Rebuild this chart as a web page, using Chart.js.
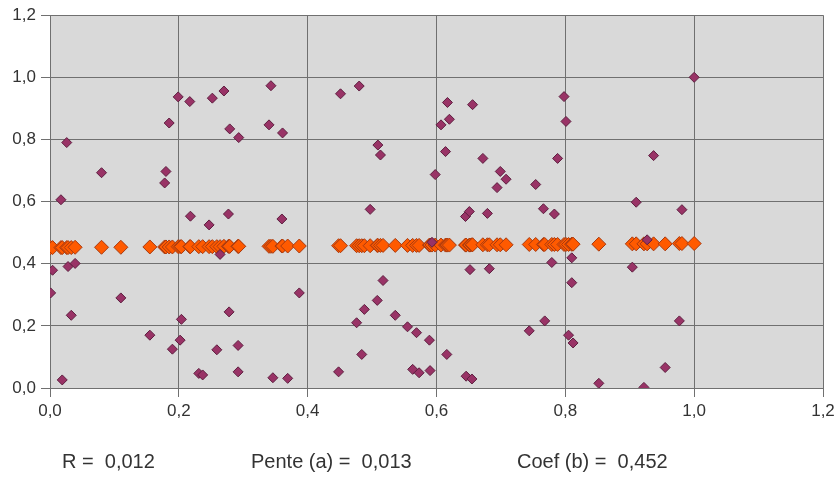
<!DOCTYPE html>
<html>
<head>
<meta charset="utf-8">
<script src="https://cdn.jsdelivr.net/npm/chart.js@4"></script>
<style>
  html, body { margin: 0; padding: 0; background: #fff; }
  #wrap { position: relative; width: 839px; height: 477px; }
  .stat { position: absolute; top: 451px; font: 20px "Liberation Sans", Arial, sans-serif; color: #333; white-space: pre; line-height: 20px; }
</style>
</head>
<body>
<div id="wrap">
  <canvas id="chart" width="839" height="477"></canvas>
  <div class="stat" style="left:62px">R =  0,012</div>
  <div class="stat" style="left:251px">Pente (a) =  0,013</div>
  <div class="stat" style="left:517px">Coef (b) =  0,452</div>
</div>
<script>
// measured points (x, y)
const pointsX = [0.001, 0.004, 0.017, 0.019, 0.026, 0.028, 0.033, 0.039, 0.080, 0.110,
  0.155, 0.178, 0.180, 0.185, 0.190, 0.199, 0.202, 0.204, 0.217, 0.218,
  0.231, 0.237, 0.247, 0.252, 0.259, 0.264, 0.270, 0.277, 0.278, 0.279,
  0.292, 0.292, 0.293, 0.340, 0.343, 0.346, 0.360, 0.361, 0.369, 0.387,
  0.448, 0.451, 0.476, 0.480, 0.484, 0.488, 0.497, 0.508, 0.509, 0.513,
  0.517, 0.536, 0.555, 0.563, 0.569, 0.573, 0.589, 0.590, 0.593, 0.598,
  0.607, 0.614, 0.616, 0.617, 0.620, 0.645, 0.646, 0.651, 0.652, 0.655,
  0.656, 0.672, 0.679, 0.682, 0.694, 0.699, 0.708, 0.744, 0.754, 0.766,
  0.768, 0.779, 0.783, 0.788, 0.798, 0.801, 0.805, 0.810, 0.810, 0.812,
  0.852, 0.904, 0.910, 0.922, 0.927, 0.937, 0.955, 0.977, 0.981, 1.000];
const pointsY = [0.306, 0.379, 0.606, 0.026, 0.790, 0.391, 0.234, 0.401, 0.693, 0.290,
  0.170, 0.660, 0.697, 0.853, 0.125, 0.937, 0.154, 0.221, 0.922, 0.553,
  0.047, 0.042, 0.525, 0.933, 0.123, 0.430, 0.956, 0.560, 0.245, 0.834,
  0.137, 0.052, 0.806, 0.847, 0.973, 0.033, 0.544, 0.821, 0.031, 0.306,
  0.052, 0.947, 0.210, 0.972, 0.108, 0.253, 0.575, 0.282, 0.782, 0.750,
  0.346, 0.234, 0.197, 0.060, 0.178, 0.049, 0.154, 0.056, 0.469, 0.687,
  0.847, 0.761, 0.108, 0.919, 0.865, 0.552, 0.038, 0.568, 0.381, 0.029,
  0.912, 0.739, 0.562, 0.384, 0.645, 0.697, 0.672, 0.184, 0.655, 0.577,
  0.216, 0.404, 0.560, 0.739, 0.938, 0.858, 0.170, 0.419, 0.339, 0.145,
  0.015, 0.389, 0.598, 0.002, 0.477, 0.748, 0.066, 0.216, 0.574, 1.000];
// regression points (same x, read y)
const fitY = [0.452, 0.452, 0.452, 0.452, 0.452, 0.452, 0.452, 0.453, 0.453, 0.453,
  0.454, 0.454, 0.454, 0.454, 0.454, 0.455, 0.455, 0.455, 0.455, 0.455,
  0.455, 0.455, 0.455, 0.455, 0.455, 0.455, 0.456, 0.456, 0.456, 0.456,
  0.456, 0.456, 0.456, 0.456, 0.456, 0.456, 0.457, 0.457, 0.457, 0.457,
  0.458, 0.458, 0.458, 0.458, 0.458, 0.458, 0.458, 0.459, 0.459, 0.459,
  0.459, 0.459, 0.459, 0.459, 0.459, 0.459, 0.460, 0.460, 0.460, 0.460,
  0.460, 0.460, 0.460, 0.460, 0.460, 0.460, 0.460, 0.460, 0.460, 0.461,
  0.461, 0.461, 0.461, 0.461, 0.461, 0.461, 0.461, 0.462, 0.462, 0.462,
  0.462, 0.462, 0.462, 0.462, 0.462, 0.462, 0.462, 0.463, 0.463, 0.463,
  0.463, 0.464, 0.464, 0.464, 0.464, 0.464, 0.464, 0.465, 0.465, 0.465];
const axisTicks = [0, 0.2, 0.4, 0.6, 0.8, 1.0, 1.2];

const frLabel = v => Number(v).toFixed(1).replace(".", ",");

const plotBg = {
  id: "plotBg",
  beforeDraw(chart) {
    const a = chart.chartArea, c = chart.ctx;
    c.save();
    c.fillStyle = "#d9d9d9";
    c.fillRect(a.left, a.top, a.right - a.left, a.bottom - a.top);
    c.restore();
  }
};

const gridOpts = { color: "#707070", lineWidth: 1, tickLength: 9, tickColor: "#707070" };
const tickFont = { family: "'Liberation Sans', Arial, sans-serif", size: 17 };

new Chart(document.getElementById("chart"), {
  type: "scatter",
  data: {
    datasets: [{
      label: "Y",
      data: pointsX.map((x, i) => ({ x: x, y: pointsY[i] })),
      pointStyle: "rectRot",
      pointRadius: 5,
      backgroundColor: "#993366",
      borderColor: "#5e1f40",
      borderWidth: 1
    }, {
      label: "Droite",
      data: pointsX.map((x, i) => ({ x: x, y: fitY[i] })),
      pointStyle: "rectRot",
      pointRadius: 7,
      backgroundColor: "#ff5a00",
      borderColor: "#a83a10",
      borderWidth: 1
    }]
  },
  options: {
    responsive: false,
    animation: false,
    layout: { padding: { top: 14, right: 16, bottom: 0, left: 0 } },
    plugins: { legend: { display: false }, tooltip: { enabled: false } },
    scales: {
      x: {
        type: "linear", min: 0, max: 1.2,
        afterBuildTicks: s => { s.ticks = axisTicks.map(v => ({ value: v })); },
        afterFit: s => { s.height = 89; },
        grid: gridOpts,
        border: { color: "#707070" },
        ticks: { callback: frLabel, color: "#333", font: tickFont, padding: 4, maxRotation: 0 }
      },
      y: {
        type: "linear", min: 0, max: 1.2,
        afterBuildTicks: s => { s.ticks = axisTicks.map(v => ({ value: v })); },
        afterFit: s => { s.width = 50; },
        grid: gridOpts,
        border: { color: "#707070" },
        ticks: { callback: frLabel, color: "#333", font: tickFont, padding: 5 }
      }
    }
  },
  plugins: [plotBg]
});
</script>
</body>
</html>
